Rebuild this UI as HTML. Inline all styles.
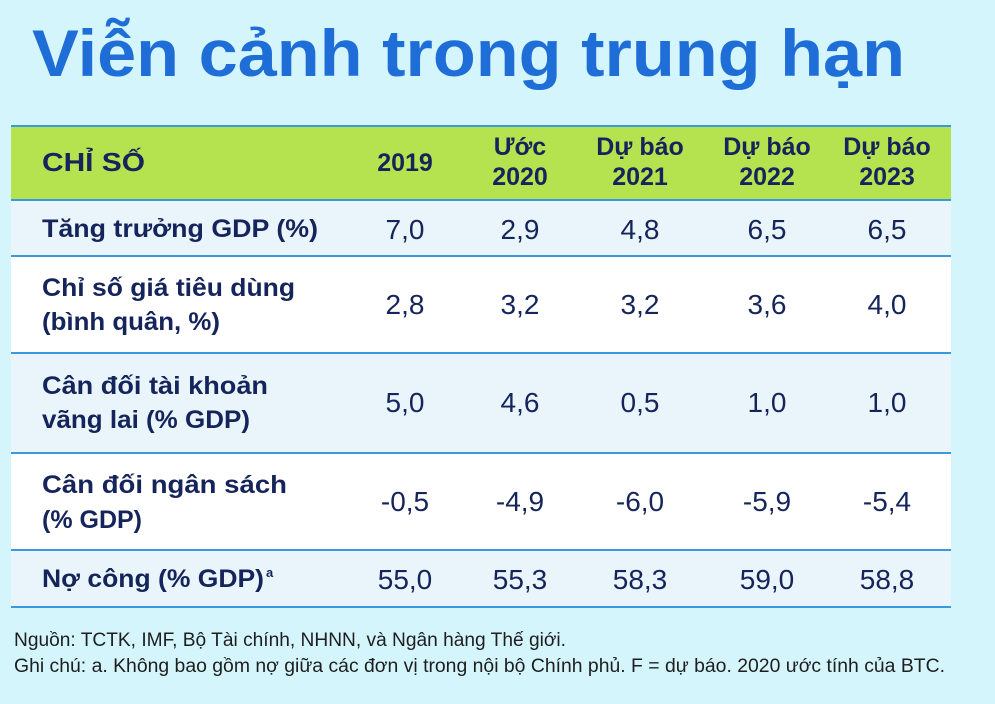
<!DOCTYPE html>
<html><head><meta charset="utf-8"><style>
html,body{margin:0;padding:0;background:#d4f5fc;}
svg{display:block;font-family:"Liberation Sans",sans-serif;}
</style></head><body>
<svg width="995" height="704" viewBox="0 0 995 704">
<rect width="995" height="704" fill="#d4f5fc"/>
<text x="32" y="76" font-size="66" font-weight="bold" fill="#1f6ed8" textLength="873" lengthAdjust="spacingAndGlyphs">Viễn cảnh trong trung hạn</text>

<g>
<rect x="11" y="127" width="940" height="73" fill="#b5e24f"/>
<rect x="11" y="200" width="940" height="56" fill="#e9f5fa"/>
<rect x="11" y="256" width="940" height="97" fill="#ffffff"/>
<rect x="11" y="353" width="940" height="100" fill="#e9f5fa"/>
<rect x="11" y="453" width="940" height="97" fill="#ffffff"/>
<rect x="11" y="550" width="940" height="57" fill="#e9f5fa"/>
<g stroke="#3a98df" stroke-width="2">
<line x1="11" x2="951" y1="126" y2="126"/>
<line x1="11" x2="951" y1="200" y2="200"/>
<line x1="11" x2="951" y1="256" y2="256"/>
<line x1="11" x2="951" y1="353" y2="353"/>
<line x1="11" x2="951" y1="453" y2="453"/>
<line x1="11" x2="951" y1="550" y2="550"/>
<line x1="11" x2="951" y1="607" y2="607"/>
</g>
<g font-weight="bold" font-size="25" fill="#15245a" text-anchor="middle">
<text x="42" y="171" text-anchor="start" font-size="26" textLength="103" lengthAdjust="spacingAndGlyphs">CHỈ SỐ</text>
<text x="405" y="171">2019</text>
<text x="520" y="155">Ước</text>
<text x="520" y="185">2020</text>
<text x="640" y="155">Dự báo</text>
<text x="640" y="185">2021</text>
<text x="767" y="155">Dự báo</text>
<text x="767" y="185">2022</text>
<text x="887" y="155">Dự báo</text>
<text x="887" y="185">2023</text>
</g>
<g font-weight="bold" font-size="25" fill="#15245a">
<text x="42" y="237" textLength="276" lengthAdjust="spacingAndGlyphs">Tăng trưởng GDP (%)</text>
<text x="42" y="296" textLength="253" lengthAdjust="spacingAndGlyphs">Chỉ số giá tiêu dùng</text>
<text x="42" y="330" textLength="178" lengthAdjust="spacingAndGlyphs">(bình quân, %)</text>
<text x="42" y="394" textLength="226" lengthAdjust="spacingAndGlyphs">Cân đối tài khoản</text>
<text x="42" y="428" textLength="208" lengthAdjust="spacingAndGlyphs">vãng lai (% GDP)</text>
<text x="42" y="493" textLength="245" lengthAdjust="spacingAndGlyphs">Cân đối ngân sách</text>
<text x="42" y="528" textLength="100" lengthAdjust="spacingAndGlyphs">(% GDP)</text>
<text x="42" y="587" textLength="222" lengthAdjust="spacingAndGlyphs">Nợ công (% GDP)</text>
<text x="266" y="577" font-size="13">a</text>
</g>
<g font-size="28" fill="#15245a" text-anchor="middle">
<text x="405" y="239">7,0</text><text x="520" y="239">2,9</text><text x="640" y="239">4,8</text><text x="767" y="239">6,5</text><text x="887" y="239">6,5</text>
<text x="405" y="314">2,8</text><text x="520" y="314">3,2</text><text x="640" y="314">3,2</text><text x="767" y="314">3,6</text><text x="887" y="314">4,0</text>
<text x="405" y="412">5,0</text><text x="520" y="412">4,6</text><text x="640" y="412">0,5</text><text x="767" y="412">1,0</text><text x="887" y="412">1,0</text>
<text x="405" y="511">-0,5</text><text x="520" y="511">-4,9</text><text x="640" y="511">-6,0</text><text x="767" y="511">-5,9</text><text x="887" y="511">-5,4</text>
<text x="405" y="589">55,0</text><text x="520" y="589">55,3</text><text x="640" y="589">58,3</text><text x="767" y="589">59,0</text><text x="887" y="589">58,8</text>
</g>
</g>
<text x="14" y="646" font-size="19" fill="#1e1e1e" textLength="552" lengthAdjust="spacingAndGlyphs">Nguồn: TCTK, IMF, Bộ Tài chính, NHNN, và Ngân hàng Thế giới.</text>
<text x="14" y="672" font-size="19" fill="#1e1e1e" textLength="931" lengthAdjust="spacingAndGlyphs">Ghi chú: a. Không bao gồm nợ giữa các đơn vị trong nội bộ Chính phủ. F = dự báo. 2020 ước tính của BTC.</text>
</svg>
</body></html>
